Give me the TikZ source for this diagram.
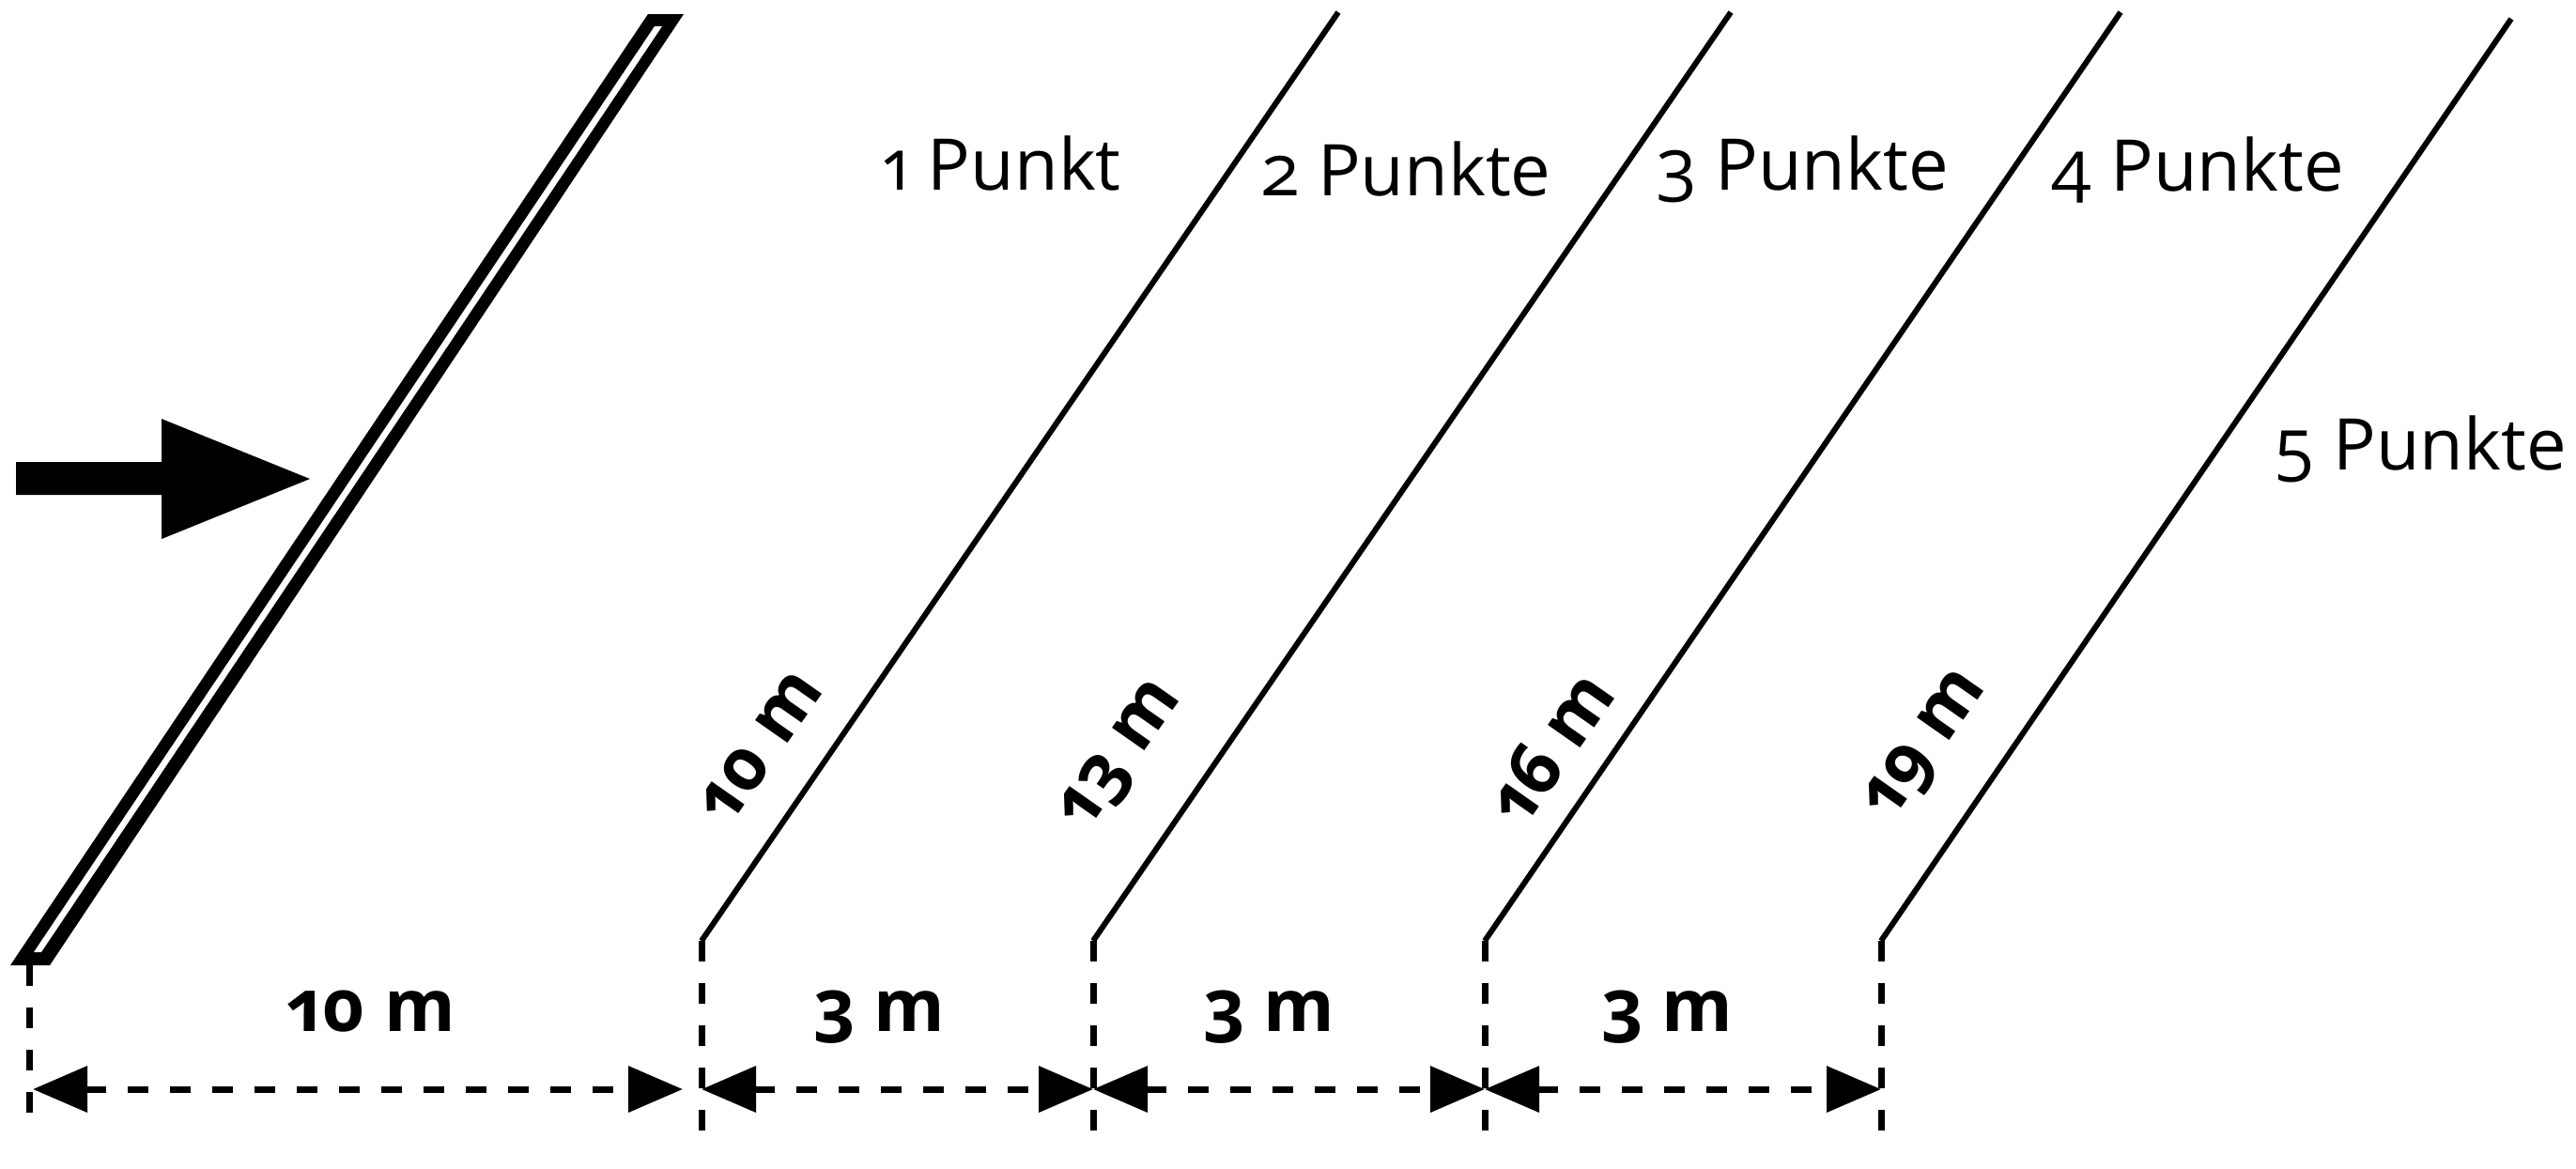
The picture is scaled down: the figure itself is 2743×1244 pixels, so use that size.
\documentclass[tikz,border=0pt]{standalone}
\usepackage{fontspec}
\setmainfont{Open Sans}[Numbers=OldStyle]
\usetikzlibrary{arrows.meta}
\begin{document}
\begin{tikzpicture}[x=0.2pt,y=-0.2pt,
  slant/.style={line width=1.2pt},
  guide/.style={line width=1.4pt, dash pattern=on 4.4pt off 4.6pt},
  dimline/.style={line width=1.4pt, dash pattern=on 4.4pt off 4.6pt,
    {Triangle[length=11.6pt,width=9.6pt]}-{Triangle[length=11.6pt,width=9.6pt]}},
  ptlabel/.style={font=\fontsize{15.2}{18}\selectfont, inner sep=0pt, anchor=base},
  mlabel/.style={font=\fontsize{15.4}{18}\selectfont\bfseries, inner sep=0pt, anchor=base},
  rlabel/.style={font=\fontsize{15.4}{18}\selectfont\bfseries, inner sep=0pt, rotate=55},
]
\useasboundingbox (0,0) rectangle (2743,1244);
\fill[white] (0,0) rectangle (2743,1244);

% wall
\fill[black] (11,1028) -- (53,1028) -- (728,15) -- (690,15) -- cycle;
\fill[white] (36,1014) -- (44,1014) -- (705,28) -- (697,28) -- cycle;

% big arrow
\fill[black] (17,492) -- (172,492) -- (172,446) -- (330,510) -- (172,574) -- (172,527) -- (17,527) -- cycle;

% coordinates
\coordinate (b0) at (31,1028);
\coordinate (b1) at (747,1002);
\coordinate (b2) at (1164,1002);
\coordinate (b3) at (1581,1002);
\coordinate (b4) at (2003,1002);
\coordinate (t1) at (1425,13);
\coordinate (t2) at (1843,13);
\coordinate (t3) at (2258,13);
\coordinate (t4) at (2674,20);
\coordinate (e0) at (31,1207);
\coordinate (e1) at (747,1207);
\coordinate (e2) at (1164,1207);
\coordinate (e3) at (1581,1207);
\coordinate (e4) at (2003,1207);
\coordinate (d0) at (35,1160);
\coordinate (d0r) at (727,1160);
\coordinate (d1) at (747,1160);
\coordinate (d2) at (1164,1160);
\coordinate (d3) at (1581,1160);
\coordinate (d4) at (2003,1160);

% slanted lines
\draw[slant] (b1) -- (t1);
\draw[slant] (b2) -- (t2);
\draw[slant] (b3) -- (t3);
\draw[slant] (b4) -- (t4);

% vertical guides
\draw[guide] (b0) -- (e0);
\draw[guide] (b1) -- (e1);
\draw[guide] (b2) -- (e2);
\draw[guide] (b3) -- (e3);
\draw[guide] (b4) -- (e4);

% dimension lines
\draw[dimline] (d0) -- (d0r);
\draw[dimline] (d1) -- (d2);
\draw[dimline] (d2) -- (d3);
\draw[dimline] (d3) -- (d4);

% labels
\node[ptlabel] (p1) at (1067,202) {1 Punkt};
\node[ptlabel] (p2) at (1498,208) {2 Punkte};
\node[ptlabel] (p3) at (1919,202) {3 Punkte};
\node[ptlabel] (p4) at (2340,203) {4 Punkte};
\node[ptlabel] (p5) at (2577,500) {5 Punkte};

\node[mlabel] (m0) at (395,1098) {10 m};
\node[mlabel] (m1) at (936,1098) {3 m};
\node[mlabel] (m2) at (1351,1098) {3 m};
\node[mlabel] (m3) at (1775,1098) {3 m};

\node[rlabel] (r1) at (810,796) {10 m};
\node[rlabel] (r2) at (1195,806) {13 m};
\node[rlabel] (r3) at (1650,796) {16 m};
\node[rlabel] (r4) at (2052,795) {19 m};
\end{tikzpicture}
\end{document}
